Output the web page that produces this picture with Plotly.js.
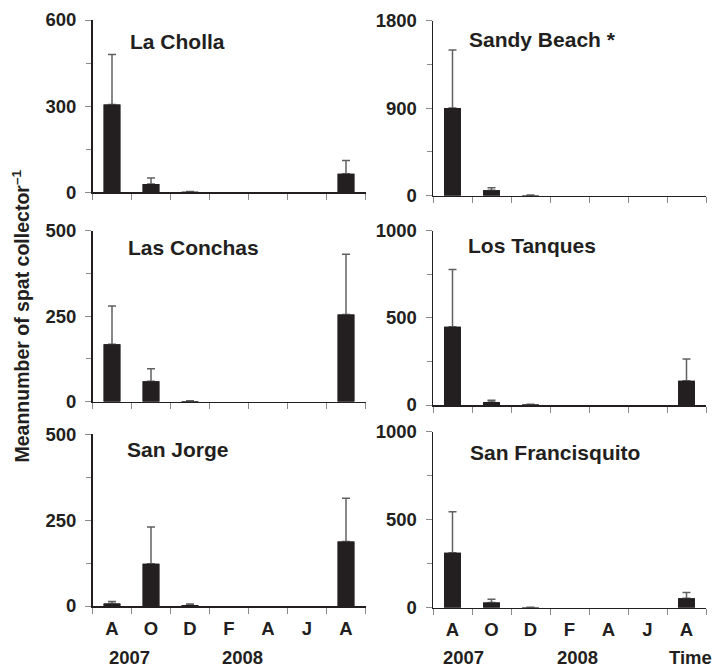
<!DOCTYPE html>
<html>
<head>
<meta charset="utf-8">
<script src="https://cdn.plot.ly/plotly-3.0.1.min.js"></script>
<style>html,body{margin:0;padding:0;background:#fff;}#chart{width:716px;height:669px;}</style>
</head>
<body>
<div id="chart"></div>
<script>
// ---- data ----
const months = ['A', 'O', 'D', 'F', 'A', 'J', 'A'];
const siteNames = ['La Cholla', 'Sandy Beach *', 'Las Conchas', 'Los Tanques', 'San Jorge', 'San Francisquito'];

const laChollaMean = [306, 29, 2, null, null, null, 65];
const laChollaSE   = [174, 21, 1, null, null, null, 46];

const sandyBeachMean = [902, 55, 5, null, null, null, null];
const sandyBeachSE   = [597, 27, 3, null, null, null, null];

const lasConchasMean = [168, 60, 2, null, null, null, 255];
const lasConchasSE   = [112, 36, 1, null, null, null, 176];

const losTanquesMean = [449, 17, 3, null, null, null, 139];
const losTanquesSE   = [329, 10, 2, null, null, null, 125];

const sanJorgeMean = [7, 123, 3, null, null, null, 188];
const sanJorgeSE   = [6, 107, 3, null, null, null, 126];

const sanFranciscoMean = [312, 30, 2, null, null, null, 53];
const sanFranciscoSE   = [233, 18, 1, null, null, null, 34];

const yMax = [600, 1800, 500, 1000, 500, 1000];
const yearLabels = ['2007', '2008'];
const timeLabel = 'Time';
const yTitle = 'Meannumber of spat collector<sup>–1</sup>';

// ---- layout geometry (pixels) ----
const W = 716, H = 669;
const ink = '#231f20';
const tickGray = '#8a8a8a';
const fam = '"Liberation Sans", Arial, Helvetica, sans-serif';
const xDomPx = [[92.5, 365.5], [433, 706]];
const yDomPx = [[20, 192.3], [20.7, 195.7], [230.7, 401.7], [230.7, 405], [434.3, 606], [431.7, 607.7]];
const titlePos = [[127.7, 41.5], [467, 39.5], [126, 247.5], [466, 246], [125, 449.5], [468, 452]];

const means = [laChollaMean, sandyBeachMean, lasConchasMean, losTanquesMean, sanJorgeMean, sanFranciscoMean];
const ses = [laChollaSE, sandyBeachSE, lasConchasSE, losTanquesSE, sanJorgeSE, sanFranciscoSE];
const idx = months.map((_, j) => j);

const traces = [];
means.forEach((m, i) => {
  const xa = 'x' + (i ? i + 1 : ''), ya = 'y' + (i ? i + 1 : '');
  // bars with upward error bars
  traces.push({
    type: 'bar', x: idx, y: m, width: 0.43,
    marker: {color: ink, line: {width: 0}},
    error_y: {
      type: 'data', symmetric: false,
      array: ses[i], arrayminus: ses[i].map(() => 0),
      color: '#606060', thickness: 1.5, width: 4
    },
    xaxis: xa, yaxis: ya, showlegend: false, hoverinfo: 'none'
  });
  // same bars again on top, hiding the lower cap of each error bar
  traces.push({
    type: 'bar', x: idx, y: m, width: 0.43,
    marker: {color: ink, line: {width: 0}},
    xaxis: xa, yaxis: ya, showlegend: false, hoverinfo: 'none'
  });
});

const layout = {
  width: W, height: H,
  margin: {l: 0, r: 0, t: 0, b: 0},
  paper_bgcolor: '#fff', plot_bgcolor: '#fff',
  showlegend: false,
  barmode: 'overlay',
  font: {family: fam, color: ink},
  annotations: []
};

for (let i = 0; i < 6; i++) {
  const col = i % 2, row = Math.floor(i / 2);
  const k = i ? String(i + 1) : '';
  const bottom = row === 2;
  const xd = xDomPx[col], yd = yDomPx[i];
  layout['xaxis' + k] = {
    domain: [xd[0] / W, xd[1] / W],
    anchor: 'y' + k,
    range: [-0.5, 6.5],
    fixedrange: true,
    showgrid: false, zeroline: false,
    showline: true, linecolor: ink, linewidth: 1.5,
    ticks: '',
    tickmode: 'array', tickvals: idx, ticktext: months,
    showticklabels: bottom,
    ticklabelstandoff: 5,
    tickfont: {family: fam, size: 18.5, weight: 'bold', color: ink},
    minor: {tickmode: 'linear', tick0: -0.5, dtick: 1, ticks: 'outside', ticklen: 6, tickwidth: 1, tickcolor: tickGray, showgrid: false}
  };
  layout['yaxis' + k] = {
    domain: [1 - yd[1] / H, 1 - yd[0] / H],
    anchor: 'x' + k,
    range: [0, yMax[i]],
    fixedrange: true,
    showgrid: false, zeroline: false,
    showline: true, linecolor: ink, linewidth: 1.5,
    tickmode: 'linear', tick0: 0, dtick: yMax[i] / 2,
    ticks: 'outside', ticklen: 6, tickwidth: 1, tickcolor: tickGray,
    ticklabelstandoff: 5,
    tickfont: {family: fam, size: 18.5, weight: 'bold', color: ink},
    minor: {tickmode: 'linear', tick0: 0, dtick: yMax[i] / 4, ticks: 'outside', ticklen: 5, tickwidth: 1, tickcolor: tickGray, showgrid: false}
  };
  layout.annotations.push({
    text: siteNames[i], xref: 'paper', yref: 'paper',
    x: titlePos[i][0] / W, y: 1 - titlePos[i][1] / H,
    xanchor: 'left', yanchor: 'middle', showarrow: false,
    font: {family: fam, size: 21, weight: 'bold', color: ink}
  });
}

// year labels and time label
const yearY = 1 - 657 / H;
const yearFont = {family: fam, size: 18.5, weight: 'bold', color: ink};
[[129, yearLabels[0]], [242, yearLabels[1]], [463.5, yearLabels[0]], [577.5, yearLabels[1]], [690, timeLabel]].forEach(p => {
  layout.annotations.push({
    text: p[1], xref: 'paper', yref: 'paper', x: p[0] / W, y: yearY,
    xanchor: 'center', yanchor: 'middle', showarrow: false, font: yearFont
  });
});

// y-axis title
layout.annotations.push({
  text: yTitle, xref: 'paper', yref: 'paper', x: 20.5 / W, y: 1 - 316 / H,
  xanchor: 'center', yanchor: 'middle', textangle: -90, showarrow: false,
  font: {family: fam, size: 19.5, weight: 'bold', color: ink}
});

Plotly.newPlot('chart', traces, layout, {staticPlot: true, displayModeBar: false});
</script>
</body>
</html>
